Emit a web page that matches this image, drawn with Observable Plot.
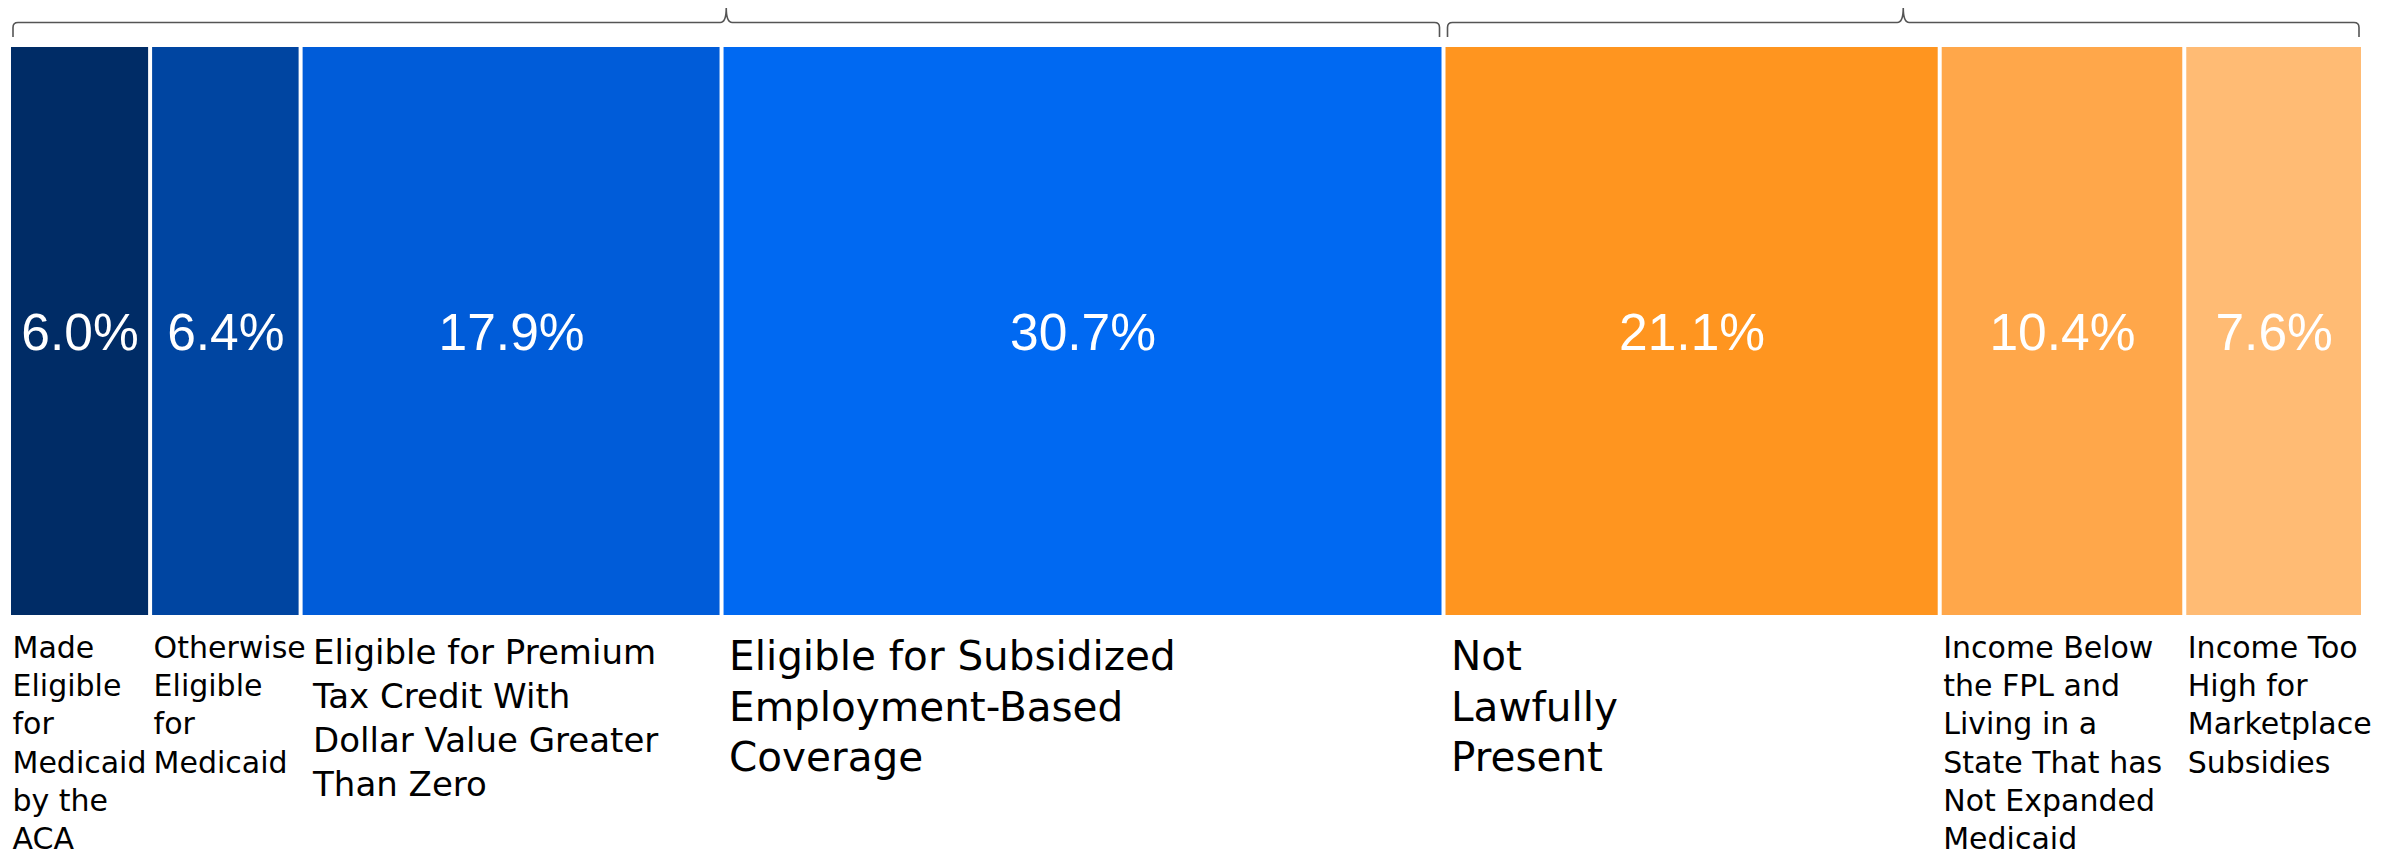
<!DOCTYPE html>
<html>
<head>
<meta charset="utf-8">
<script src="https://cdn.jsdelivr.net/npm/d3@7"></script>
<script src="https://cdn.jsdelivr.net/npm/@observablehq/plot@0.6"></script>
<style>
  html, body { margin: 0; padding: 0; background: #fff; overflow: hidden; }
</style>
</head>
<body>
<div id="chart"></div>
<script>
// ---- Data ----
const categories = [
  "Made\nEligible\nfor\nMedicaid\nby the\nACA",
  "Otherwise\nEligible\nfor\nMedicaid",
  "Eligible for Premium\nTax Credit With\nDollar Value Greater\nThan Zero",
  "Eligible for Subsidized\nEmployment-Based\nCoverage",
  "Not\nLawfully\nPresent",
  "Income Below\nthe FPL and\nLiving in a\nState That has\nNot Expanded\nMedicaid",
  "Income Too\nHigh for\nMarketplace\nSubsidies"
];
const values = [6.0, 6.4, 17.9, 30.7, 21.1, 10.4, 7.6];
const valueLabels = ["6.0%", "6.4%", "17.9%", "30.7%", "21.1%", "10.4%", "7.6%"];
const groups = ["Eligible", "Eligible", "Eligible", "Eligible", "Ineligible", "Ineligible", "Ineligible"];
const colors = ["#002c66", "#0045a1", "#005cd9", "#0069f2", "#ff951f", "#ffa74a", "#ffbb74"];

// ---- Derived table ----
let acc = 0;
const rows = categories.map((c, i) => {
  const x1 = acc;
  acc += values[i];
  return {i, cat: c, value: values[i], label: valueLabels[i], group: groups[i], x1, x2: acc};
});
const total = acc;
const spans = d3.rollups(rows, g => [d3.min(g, d => d.x1), d3.max(g, d => d.x2)], d => d.group)
  .map(([k, [a, b]]) => ({k, a, b}));

const smallIdx = [0, 1, 5, 6], mediumIdx = [2], largeIdx = [3, 4];
const labelFont = "DejaVu Sans";

function brackets(index, scales, values, dims) {
  const x = scales.x;
  const top = dims.marginTop;
  const g = d3.create("svg:g");
  for (const s of spans) {
    const xa = x(s.a) + 4, xb = x(s.b) - 4, cx = (xa + xb) / 2;
    const y0 = top - 24.5, yEnd = top - 10, yPeak = top - 39, r = 5, w = 6;
    const p = d3.path();
    p.moveTo(xa, yEnd);
    p.lineTo(xa, y0 + r);
    p.quadraticCurveTo(xa, y0, xa + r, y0);
    p.lineTo(cx - w, y0);
    p.quadraticCurveTo(cx, y0, cx, yPeak);
    p.quadraticCurveTo(cx, y0, cx + w, y0);
    p.lineTo(xb - r, y0);
    p.quadraticCurveTo(xb, y0, xb, y0 + r);
    p.lineTo(xb, yEnd);
    g.append("path")
      .attr("d", p.toString())
      .attr("fill", "none")
      .attr("stroke", "#555")
      .attr("stroke-width", 1.6);
  }
  return g.node();
}

const chart = Plot.plot({
  width: 2407,
  height: 859,
  marginLeft: 9,
  marginRight: 44,
  marginTop: 47,
  marginBottom: 244,
  style: {background: "white"},
  x: {domain: [0, total], axis: null},
  color: {domain: categories, range: colors},
  marks: [
    Plot.rectX(rows, {x1: "x1", x2: "x2", fill: "cat", insetLeft: 2, insetRight: 2}),
    Plot.text(rows, {
      x: d => (d.x1 + d.x2) / 2,
      text: "label",
      frameAnchor: "middle",
      fill: "white",
      fontFamily: "Liberation Sans",
      fontSize: 51.5,
      dy: 2.5
    }),
    Plot.text(rows.filter(d => smallIdx.includes(d.i)), {
      x: "x1", text: "cat", frameAnchor: "bottom", textAnchor: "start", lineAnchor: "top",
      fontFamily: labelFont, fontSize: 30, lineHeight: 1.277, fill: "black", dx: 3, dy: 15
    }),
    Plot.text(rows.filter(d => mediumIdx.includes(d.i)), {
      x: "x1", text: "cat", frameAnchor: "bottom", textAnchor: "start", lineAnchor: "top",
      fontFamily: labelFont, fontSize: 34, lineHeight: 1.294, fill: "black", dx: 12, dy: 17
    }),
    Plot.text(rows.filter(d => largeIdx.includes(d.i)), {
      x: "x1", text: "cat", frameAnchor: "bottom", textAnchor: "start", lineAnchor: "top",
      fontFamily: labelFont, fontSize: 40.5, lineHeight: 1.252, fill: "black", dx: 7, dy: 18.5
    }),
    brackets
  ]
});
document.getElementById("chart").appendChild(chart);
</script>
</body>
</html>
